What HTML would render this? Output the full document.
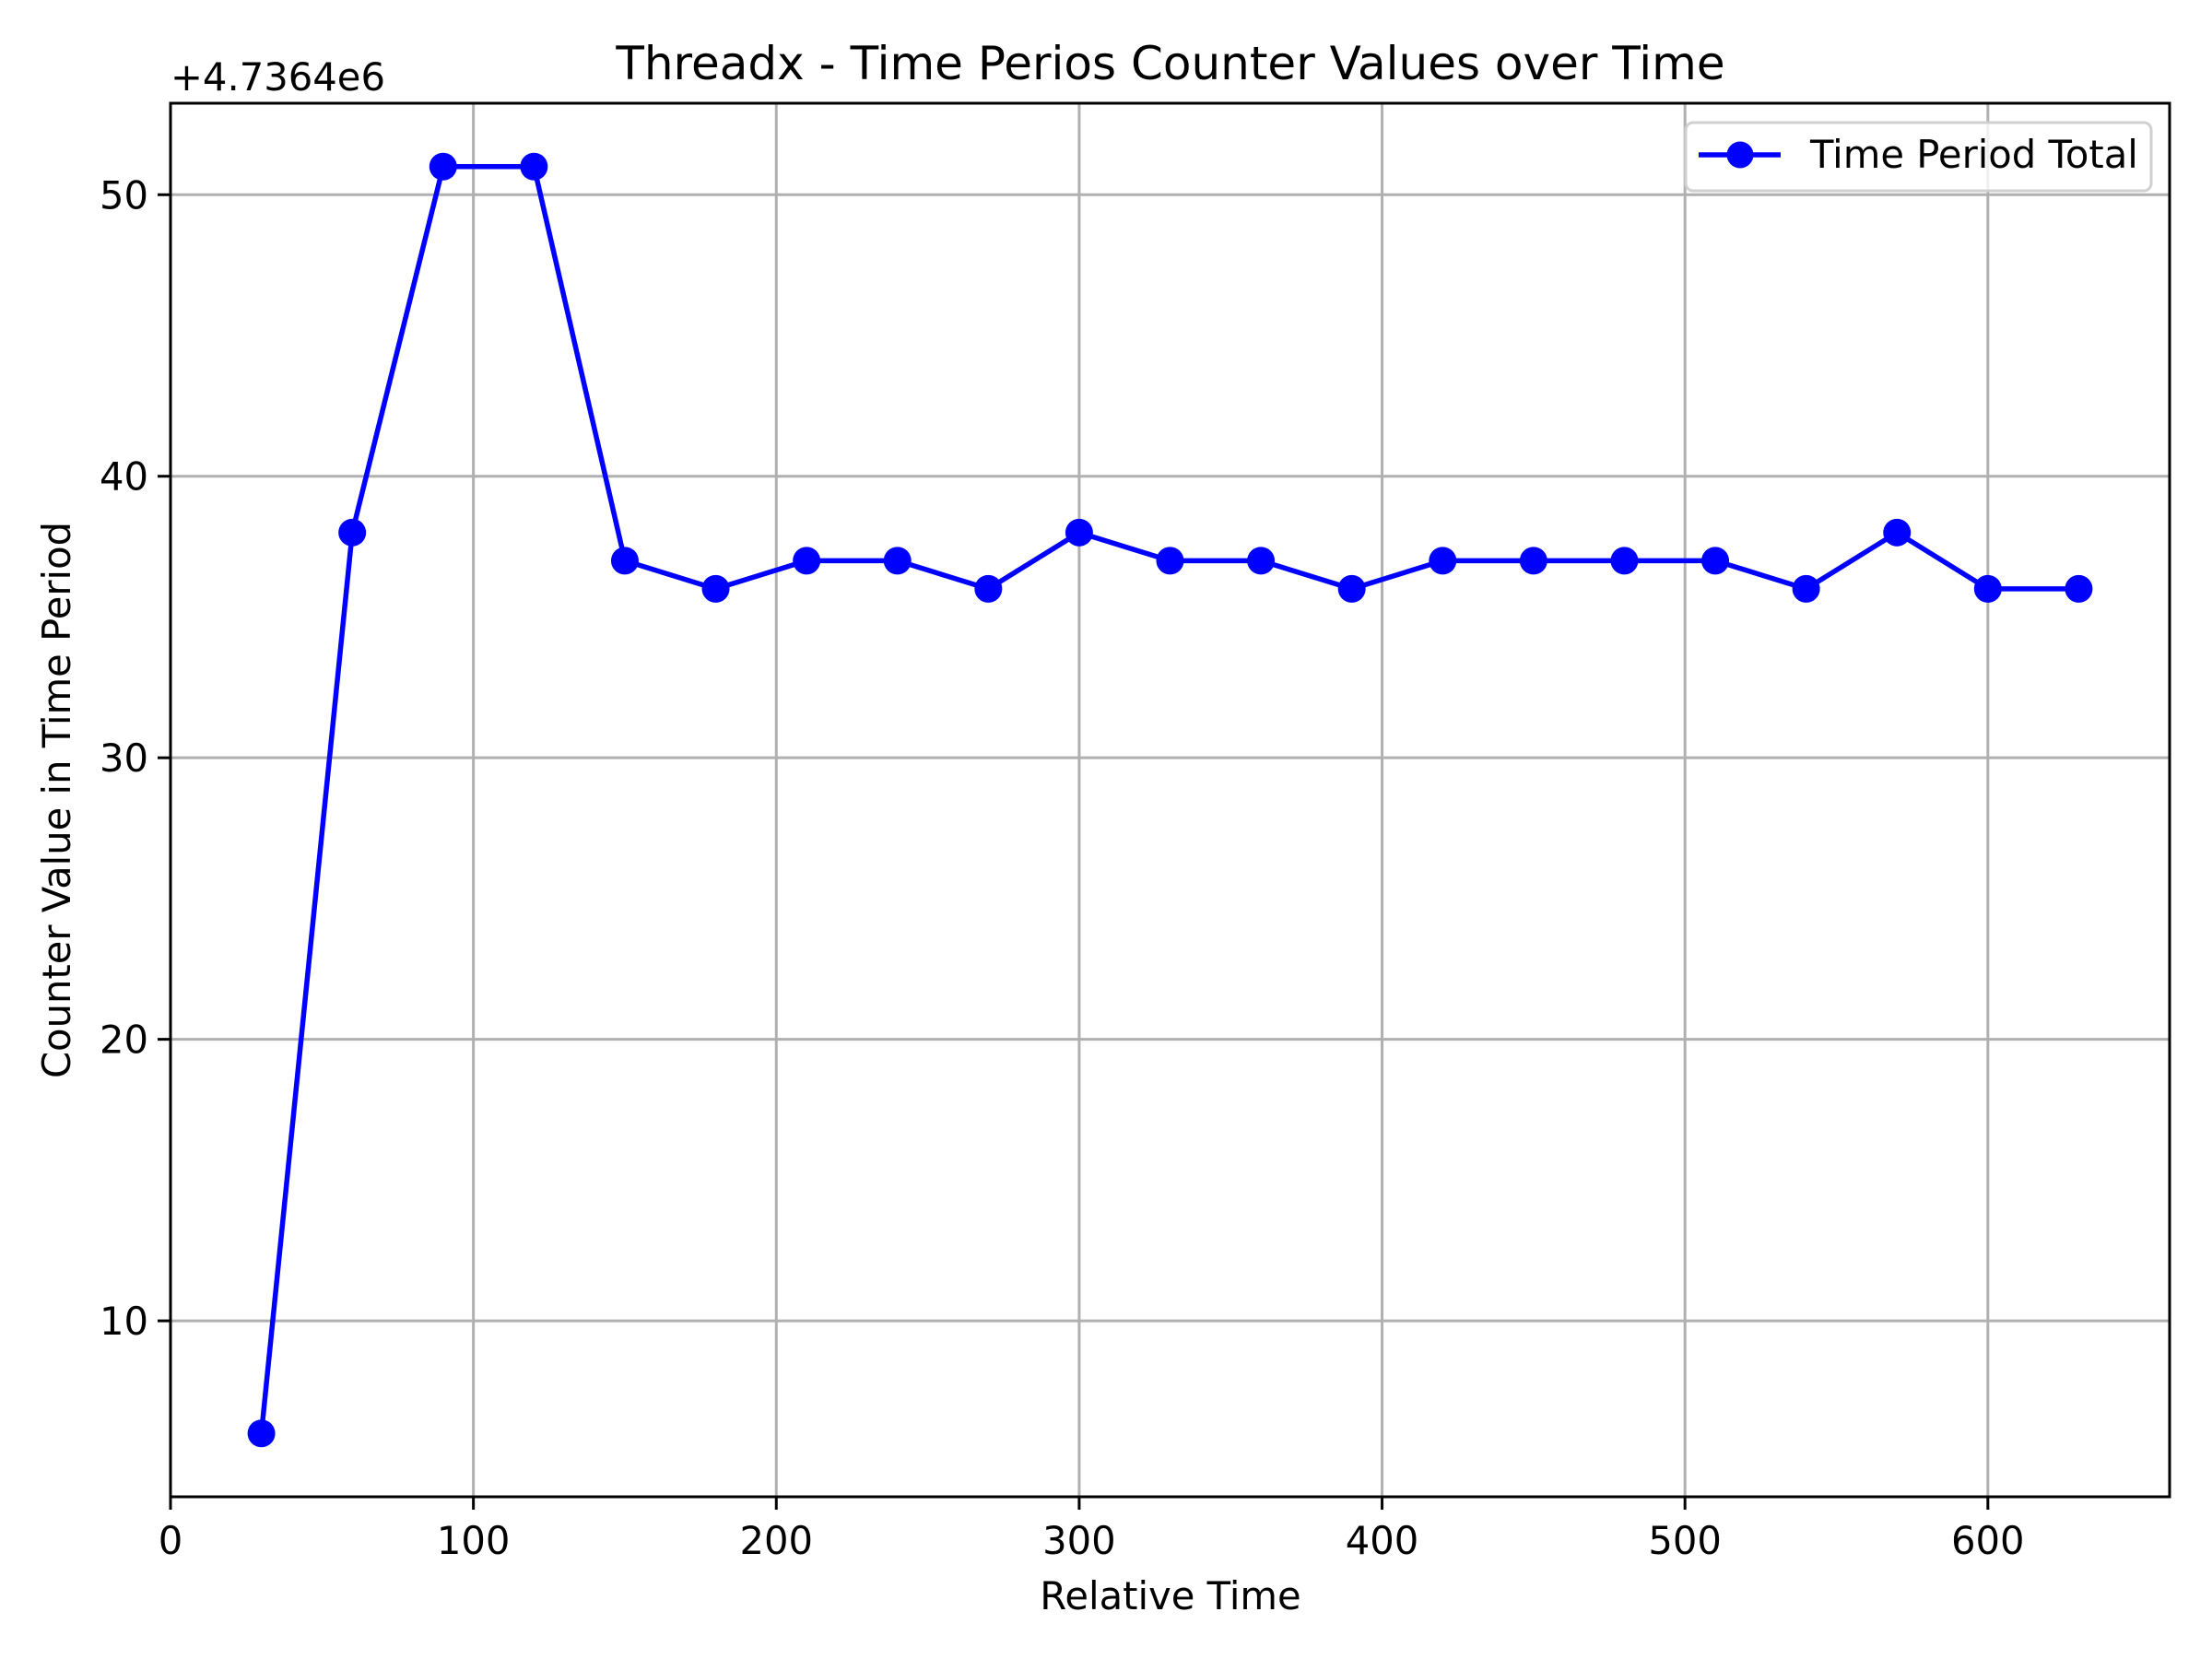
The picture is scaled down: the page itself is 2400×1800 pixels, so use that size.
<!DOCTYPE html>
<html><head><meta charset="utf-8"><style>
html,body{margin:0;padding:0;background:#fff;}
svg{display:block;font-family:"DejaVu Sans","Liberation Sans",sans-serif;}
</style></head><body>
<svg id="chart" width="2400" height="1800" viewBox="0 0 2400 1800" xmlns="http://www.w3.org/2000/svg">
<rect x="0" y="0" width="2400" height="1800" fill="#fff"/>
<g id="grid"></g>
<g id="series"></g>
<rect x="185" y="112" width="2169" height="1512" fill="none" stroke="#000" stroke-width="3"/>
<g id="ticks"></g>
<text x="185" y="98" font-size="41.7" fill="#000">+4.7364e6</text>
<text x="1270" y="86" font-size="50" text-anchor="middle" fill="#000">Threadx - Time Perios Counter Values over Time</text>
<text x="1270" y="1746" font-size="41.7" text-anchor="middle" fill="#000">Relative Time</text>
<text x="0" y="0" font-size="41.7" text-anchor="middle" fill="#000" transform="translate(76,868) rotate(-90)">Counter Value in Time Period</text>
<g>
<rect x="1829" y="133" width="505" height="74" rx="8" fill="#fff" fill-opacity="0.8" stroke="#d0d0d0" stroke-width="3"/>
<line x1="1843" y1="168" x2="1932" y2="168" stroke="#0000ff" stroke-width="5.5"/>
<circle cx="1888" cy="168" r="14.5" fill="#0000ff"/>
<text x="1964" y="182" font-size="41.7" fill="#000">Time Period Total</text>
</g>
</svg>
<script>
const xValues=[30,60,90,120,150,180,210,240,270,300,330,360,390,420,450,480,510,540,570,600,630];
const yValues=[6,38,51,51,37,36,37,37,36,38,37,37,36,37,37,37,37,36,38,36,36];
const xTicks=[0,100,200,300,400,500,600];
const yTicks=[10,20,30,40,50];
const X0=185,X1=2354,Y0=1624,Y1=112;
const xMin=0,xMax=660,yMin=3.75,yMax=53.25;
const sx=v=>X0+(v-xMin)/(xMax-xMin)*(X1-X0);
const sy=v=>Y0-(v-yMin)/(yMax-yMin)*(Y0-Y1);
const NS='http://www.w3.org/2000/svg';
const grid=document.getElementById('grid'),ticks=document.getElementById('ticks'),series=document.getElementById('series');
function mk(tag,attrs,parent){const e=document.createElementNS(NS,tag);for(const k in attrs)e.setAttribute(k,attrs[k]);parent.appendChild(e);return e;}
xTicks.forEach(t=>{
  const x=sx(t);
  const g=mk('line',{x1:x,y1:Y1,x2:x,y2:Y0,stroke:'#b0b0b0','stroke-width':3},grid);
  
  
  const tk=mk('line',{x1:x,y1:Y0,x2:x,y2:Y0+14,stroke:'#000','stroke-width':3},ticks);
  
  
  const tx=mk('text',{x:x,y:Y0+62,'font-size':41.7,'text-anchor':'middle',fill:'#000'},ticks);
  tx.textContent=t;
  
  
});
yTicks.forEach(t=>{
  const y=sy(t);
  const g=mk('line',{x1:X0,y1:y,x2:X1,y2:y,stroke:'#b0b0b0','stroke-width':3},grid);
  
  
  const tk=mk('line',{x1:X0-14,y1:y,x2:X0,y2:y,stroke:'#000','stroke-width':3},ticks);
  
  
  const tx=mk('text',{x:X0-24,y:y+15,'font-size':41.7,'text-anchor':'end',fill:'#000'},ticks);
  tx.textContent=t;
  
  
});
const pts=xValues.map((v,i)=>sx(v)+','+sy(yValues[i])).join(' ');
const pl=mk('polyline',{points:pts,fill:'none',stroke:'#0000ff','stroke-width':5.5,'stroke-linejoin':'round'},series);


xValues.forEach((v,i)=>{
  const c=mk('circle',{cx:sx(v),cy:sy(yValues[i]),r:15,fill:'#0000ff'},series);
  
  
});
</script>
</body></html>
